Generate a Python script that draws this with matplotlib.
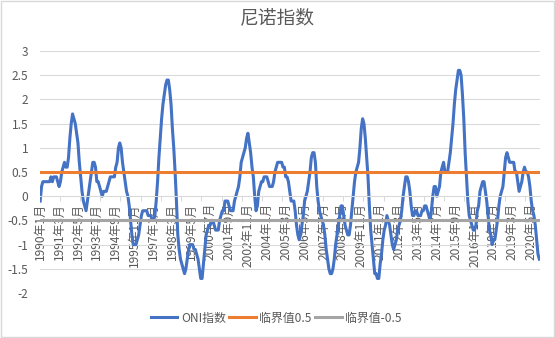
import numpy as np
import matplotlib
matplotlib.use("Agg")
import matplotlib.pyplot as plt
from matplotlib.patches import Rectangle

plt.rcParams["font.family"] = ["Noto Sans CJK SC", "DejaVu Sans"]

# 月度 ONI 指数, 1990年1月 起
oni_1990 = [-0.1, 0.2, 0.3, 0.3, 0.3, 0.3, 0.3, 0.3, 0.4, 0.3, 0.4, 0.4]
oni_1991 = [0.4, 0.3, 0.2, 0.3, 0.5, 0.6, 0.7, 0.6, 0.6, 0.8, 1.2, 1.5]
oni_1992 = [1.7, 1.6, 1.5, 1.3, 1.1, 0.7, 0.4, 0.1, -0.1, -0.2, -0.3, -0.1]
oni_1993 = [0.1, 0.3, 0.5, 0.7, 0.7, 0.6, 0.3, 0.3, 0.2, 0.1, 0.0, 0.1]
oni_1994 = [0.1, 0.1, 0.2, 0.3, 0.4, 0.4, 0.4, 0.4, 0.6, 0.7, 1.0, 1.1]
oni_1995 = [1.0, 0.7, 0.5, 0.3, 0.1, 0.0, -0.2, -0.5, -0.8, -1.0, -1.0, -1.0]
oni_1996 = [-0.9, -0.8, -0.6, -0.4, -0.3, -0.3, -0.3, -0.3, -0.4, -0.4, -0.4, -0.5]
oni_1997 = [-0.5, -0.4, -0.1, 0.3, 0.8, 1.2, 1.6, 1.9, 2.1, 2.3, 2.4, 2.4]
oni_1998 = [2.2, 1.9, 1.4, 1.0, 0.5, -0.1, -0.8, -1.1, -1.3, -1.4, -1.5, -1.6]
oni_1999 = [-1.5, -1.3, -1.1, -1.0, -1.0, -1.0, -1.1, -1.1, -1.2, -1.3, -1.5, -1.7]
oni_2000 = [-1.7, -1.4, -1.1, -0.8, -0.7, -0.6, -0.6, -0.5, -0.5, -0.6, -0.7, -0.7]
oni_2001 = [-0.7, -0.5, -0.4, -0.3, -0.3, -0.1, -0.1, -0.1, -0.2, -0.3, -0.3, -0.3]
oni_2002 = [-0.1, 0.0, 0.1, 0.2, 0.4, 0.7, 0.8, 0.9, 1.0, 1.2, 1.3, 1.1]
oni_2003 = [0.9, 0.6, 0.4, 0.0, -0.3, -0.2, 0.1, 0.2, 0.3, 0.3, 0.4, 0.4]
oni_2004 = [0.4, 0.3, 0.2, 0.2, 0.2, 0.3, 0.5, 0.6, 0.7, 0.7, 0.7, 0.7]
oni_2005 = [0.6, 0.6, 0.4, 0.4, 0.3, 0.1, -0.1, -0.1, -0.1, -0.3, -0.6, -0.8]
oni_2006 = [-0.9, -0.8, -0.6, -0.4, -0.1, 0.0, 0.1, 0.3, 0.5, 0.8, 0.9, 0.9]
oni_2007 = [0.7, 0.2, -0.1, -0.3, -0.4, -0.5, -0.6, -0.8, -1.1, -1.3, -1.5, -1.6]
oni_2008 = [-1.6, -1.5, -1.3, -1.0, -0.8, -0.6, -0.4, -0.2, -0.2, -0.4, -0.6, -0.7]
oni_2009 = [-0.8, -0.8, -0.6, -0.3, 0.0, 0.3, 0.5, 0.6, 0.7, 1.0, 1.4, 1.6]
oni_2010 = [1.5, 1.2, 0.8, 0.4, -0.2, -0.7, -1.0, -1.3, -1.6, -1.6, -1.7, -1.7]
oni_2011 = [-1.4, -1.2, -0.9, -0.7, -0.6, -0.4, -0.5, -0.6, -0.8, -1.0, -1.1, -1.0]
oni_2012 = [-0.9, -0.7, -0.6, -0.5, -0.3, 0.0, 0.2, 0.4, 0.4, 0.3, 0.1, -0.2]
oni_2013 = [-0.4, -0.4, -0.3, -0.3, -0.4, -0.4, -0.4, -0.3, -0.3, -0.2, -0.2, -0.3]
oni_2014 = [-0.4, -0.5, -0.3, 0.0, 0.2, 0.2, 0.0, 0.1, 0.2, 0.5, 0.6, 0.7]
oni_2015 = [0.5, 0.5, 0.5, 0.7, 0.9, 1.2, 1.5, 1.9, 2.2, 2.4, 2.6, 2.6]
oni_2016 = [2.5, 2.1, 1.6, 0.9, 0.4, -0.1, -0.4, -0.5, -0.6, -0.7, -0.7, -0.6]
oni_2017 = [-0.3, -0.2, 0.1, 0.2, 0.3, 0.3, 0.1, -0.1, -0.4, -0.7, -0.8, -1.0]
oni_2018 = [-0.9, -0.9, -0.7, -0.5, -0.2, 0.0, 0.1, 0.2, 0.5, 0.8, 0.9, 0.8]
oni_2019 = [0.7, 0.7, 0.7, 0.7, 0.5, 0.5, 0.3, 0.1, 0.2, 0.3, 0.5, 0.6]
oni_2020 = [0.5, 0.5, 0.4, 0.2, -0.1, -0.3, -0.4, -0.6, -0.9, -1.2, -1.3]

oni = np.array(
    oni_1990 + oni_1991 + oni_1992 + oni_1993 + oni_1994 + oni_1995 + oni_1996
    + oni_1997 + oni_1998 + oni_1999 + oni_2000 + oni_2001 + oni_2002 + oni_2003
    + oni_2004 + oni_2005 + oni_2006 + oni_2007 + oni_2008 + oni_2009 + oni_2010
    + oni_2011 + oni_2012 + oni_2013 + oni_2014 + oni_2015 + oni_2016 + oni_2017
    + oni_2018 + oni_2019 + oni_2020
)

# 临界值
upper = 0.5
lower = -0.5

# 横轴标签, 每 14 个月一个
x_labels = [
    "1990年1月", "1991年3月", "1992年5月", "1993年7月", "1994年9月",
    "1995年11月", "1997年1月", "1998年3月", "1999年5月", "2000年7月",
    "2001年9月", "2002年11月", "2004年1月", "2005年3月", "2006年5月",
    "2007年7月", "2008年9月", "2009年11月", "2011年1月", "2012年3月",
    "2013年5月", "2014年7月", "2015年9月", "2016年11月", "2018年1月",
    "2019年3月", "2020年5月",
]
label_step = 14

TEXT = "#595959"
GRID = "#D9D9D9"

n = len(oni)
x = np.arange(n)

fig = plt.figure(figsize=(5.55, 3.38), dpi=100)
ax = fig.add_axes([0.0712, 0.1331, 0.9018, 0.716])

ax.plot(x, oni, color="#4472C4", linewidth=2.2, solid_joinstyle="round",
        label="ONI指数")
ax.plot(x, np.full(n, upper), color="#ED7D31", linewidth=2.2,
        label="临界值0.5")
ax.plot(x, np.full(n, lower), color="#A5A5A5", linewidth=2.2,
        label="临界值-0.5")

ax.set_xlim(-0.5, n - 0.5)
ax.set_ylim(-2, 3)
ax.set_yticks(np.arange(-2, 3.01, 0.5))
ax.set_yticklabels([f"{v:g}" for v in np.arange(-2, 3.01, 0.5)])
ax.grid(axis="y", color=GRID, linewidth=0.75)
ax.set_axisbelow(True)

# 横轴放在 0 处
for side in ["top", "right", "left"]:
    ax.spines[side].set_visible(False)
ax.spines["bottom"].set_position(("data", 0))
ax.spines["bottom"].set_color(GRID)
ax.spines["bottom"].set_linewidth(0.75)

ax.set_xticks(np.arange(0, n, label_step)[:len(x_labels)])
ax.set_xticklabels(x_labels)
ax.set_xticks(np.arange(-0.5, n, 15), minor=True)
ax.tick_params(axis="x", which="major", length=0, pad=5, labelsize=8.6,
               labelcolor=TEXT, labelrotation=90)
ax.tick_params(axis="x", which="minor", length=3.6, width=0.75, color=GRID)
ax.tick_params(axis="y", length=0, pad=8, labelsize=8.6, labelcolor=TEXT)

fig.text(0.5, 1 - 18 / 338, "尼诺指数", ha="center", va="center",
         fontsize=13.5, color=TEXT)

fig.legend(loc="center", bbox_to_anchor=(0.498, 0.059), ncol=3, frameon=False,
           fontsize=8.6, labelcolor=TEXT, handlelength=2.2, handletextpad=0.3,
           columnspacing=0.3)

fig.patches.append(Rectangle((0.001, 0.002), 0.997, 0.996,
                             transform=fig.transFigure, fill=False,
                             edgecolor=GRID, linewidth=1))

fig.savefig("out.png", dpi=100)
